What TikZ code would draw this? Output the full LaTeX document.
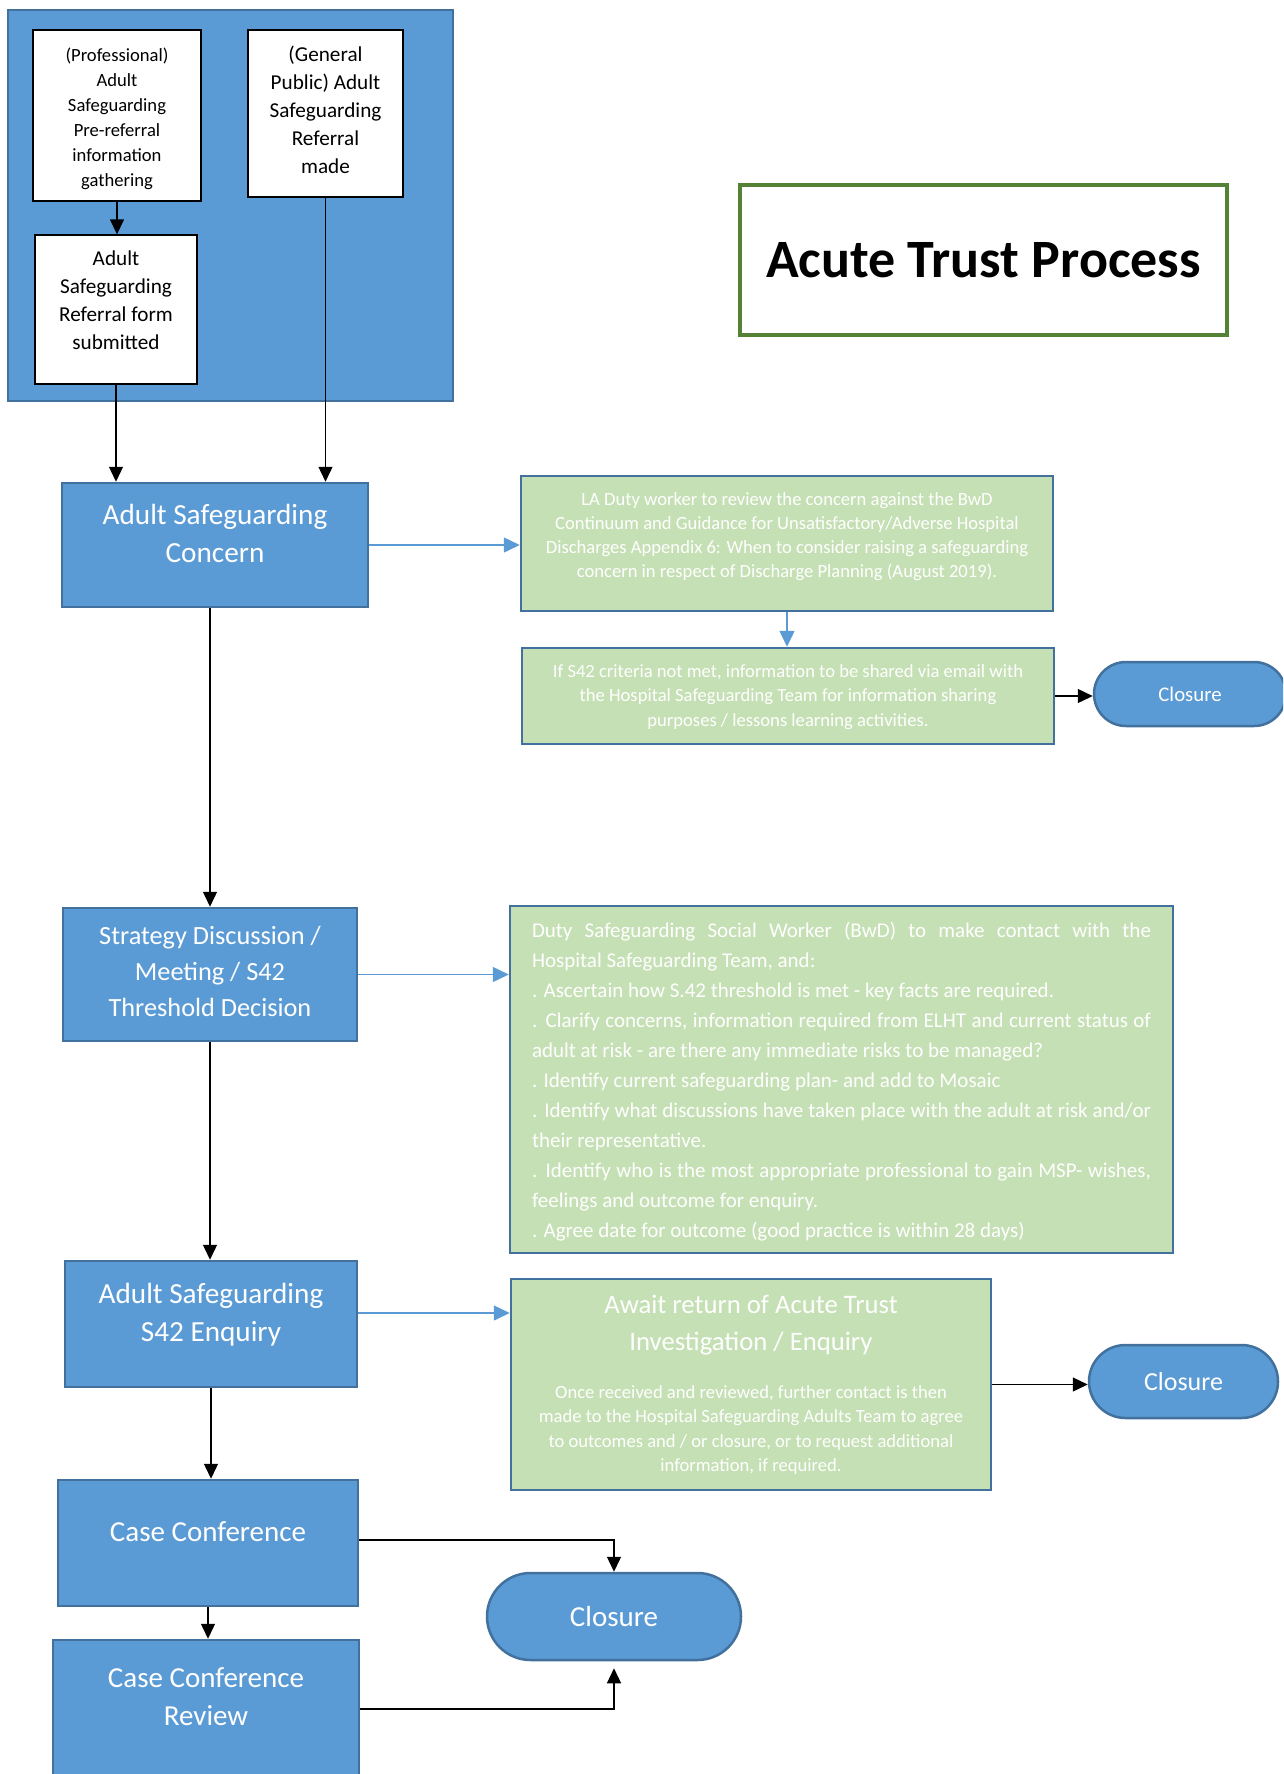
\documentclass[tikz,border=0pt]{standalone}
\usepackage{fontspec}
\setmainfont{Carlito}
\usetikzlibrary{arrows.meta,shapes.misc}
\definecolor{boxblue}{HTML}{5B9BD5}
\definecolor{boxedge}{HTML}{41719C}
\definecolor{boxgreen}{HTML}{C5E0B4}
\definecolor{titlegreen}{HTML}{548235}
% width, height, font size, baselineskip, top space, text
\newcommand{\tbox}[6]{\parbox[c][#2][t]{#1}{\fontsize{#3}{#4}\selectfont\centering\vspace*{#5}\strut #6\par}}
\tikzset{
 wbox/.style={draw=black, line width=1.3pt, fill=white, text=black, inner sep=0pt},
 bbox/.style={draw=boxedge, line width=2.5pt, fill=boxblue, text=white, inner sep=0pt},
 gbox/.style={draw=boxedge, line width=2.5pt, fill=boxgreen, text=white, inner sep=0pt},
 grpbox/.style={draw=boxedge, line width=2.5pt, fill=boxblue, inner sep=0pt},
 pill/.style={rounded rectangle, draw=boxedge, line width=2.5pt, fill=boxblue, text=white, inner sep=0pt},
 titlebox/.style={draw=titlegreen, line width=3.5pt, fill=white, inner sep=0pt},
 blk/.style={draw=black, line width=1.3pt, -{Triangle[length=15pt,width=14pt]}},
 barr/.style={draw=boxblue, line width=1.5pt, -{Triangle[length=16pt,width=15pt]}},
}
\begin{document}
\begin{tikzpicture}[x=1pt,y=-1pt]
\useasboundingbox (0,0) rectangle (1283,1774);
\fill[white] (0,0) rectangle (1283,1774);
\clip (0,0) rectangle (1283,1774);

\node[grpbox, minimum width=445pt, minimum height=391pt] (grp) at (230.5,205.5) {};

\node[wbox] (prof) at (117,115.5) {\tbox{168pt}{171pt}{18.6pt}{25pt}{14pt}{(Professional)\\Adult\\Safeguarding\\Pre-referral\\information\\gathering}};

\node[wbox] (gp) at (325.5,113.5) {\tbox{155pt}{167pt}{21.2pt}{28pt}{12.4pt}{(General\\Public) Adult\\Safeguarding\\Referral\\made}};

\node[wbox] (refform) at (116,309.5) {\tbox{162pt}{149pt}{21.2pt}{28pt}{10.4pt}{Adult\\Safeguarding\\Referral form\\submitted}};

\node[titlebox] (title) at (983.5,260) {\parbox[c][150pt][c]{487pt}{\centering\fontsize{54pt}{60pt}\selectfont\bfseries Acute Trust Process}};

\node[bbox] (concern) at (215,545) {\tbox{306pt}{124pt}{29.2pt}{38pt}{14.4pt}{Adult Safeguarding\\Concern}};

\node[gbox] (la) at (787,543.5) {\tbox{532pt}{135pt}{18.6pt}{24.3pt}{12pt}{LA Duty worker to review the concern against the BwD\\Continuum and Guidance for Unsatisfactory/Adverse Hospital\\Discharges Appendix 6: When to consider raising a safeguarding\\concern in respect of Discharge Planning (August 2019).}};

\node[gbox] (crit) at (788,696) {\tbox{532pt}{96pt}{18.6pt}{24.5pt}{11.85pt}{If S42 criteria not met, information to be shared via email with\\the Hospital Safeguarding Team for information sharing\\purposes / lessons learning activities.}};

\node[pill, minimum width=192pt, minimum height=64pt, font=\fontsize{20.8pt}{25pt}\selectfont] (close1) at (1190,694) {Closure};

\node[bbox] (strat) at (210,974.5) {\tbox{294pt}{133pt}{26.3pt}{36pt}{10.8pt}{Strategy Discussion /\\Meeting / S42\\Threshold Decision}};

\node[gbox, inner xsep=22pt] (duty) at (841.5,1079.5) {\parbox[c][347pt][t]{619pt}{\fontsize{21pt}{30pt}\selectfont\raggedright\vspace*{10pt}\strut\makebox[619pt][s]{Duty Safeguarding Social Worker (BwD) to make contact with the}\\
Hospital Safeguarding Team, and:\\
. Ascertain how S.42 threshold is met - key facts are required.\\
\makebox[619pt][s]{. Clarify concerns, information required from ELHT and current status of}\\
adult at risk - are there any immediate risks to be managed?\\
. Identify current safeguarding plan- and add to Mosaic\\
\makebox[619pt][s]{. Identify what discussions have taken place with the adult at risk and/or}\\
their representative.\\
\makebox[619pt][s]{. Identify who is the most appropriate professional to gain MSP- wishes,}\\
feelings and outcome for enquiry.\\
. Agree date for outcome (good practice is within 28 days)\par}};

\node[bbox] (s42) at (211,1324) {\tbox{292pt}{126pt}{29.2pt}{38pt}{15.4pt}{Adult Safeguarding\\S42 Enquiry}};

\node[gbox] (await) at (751,1384.5) {\parbox[c][211pt][t]{480pt}{\fontsize{26.7pt}{37pt}\selectfont\centering\vspace*{8.1pt}\strut Await return of Acute Trust\\Investigation / Enquiry\par\vspace{23.4pt}\fontsize{18.6pt}{24.6pt}\selectfont Once received and reviewed, further contact is then\\made to the Hospital Safeguarding Adults Team to agree\\to outcomes and / or closure, or to request additional\\information, if required.\par}};

\node[pill, minimum width=189pt, minimum height=73pt, font=\fontsize{26pt}{30pt}\selectfont] (close2) at (1183.5,1381.5) {Closure};

\node[bbox] (cc) at (208,1543) {\tbox{300pt}{126pt}{29pt}{38pt}{34.4pt}{Case Conference}};

\node[bbox] (ccr) at (206,1715) {\tbox{306pt}{150pt}{29pt}{38pt}{20.4pt}{Case Conference\\Review}};

\node[pill, minimum width=254pt, minimum height=87pt, font=\fontsize{29pt}{34pt}\selectfont] (close3) at (614,1616.5) {Closure};

% connectors
\draw[blk] (prof.south) -- (prof.south |- refform.north);
\draw[blk] (refform.south) -- (refform.south |- concern.north);
\draw[blk] (gp.south) -- (gp.south |- concern.north);
\draw[barr] (concern.east) -- (concern.east -| la.west);
\draw[barr] (la.south) -- (la.south |- crit.north);
\draw[blk] (crit.east) -- (crit.east -| close1.west);
\draw[blk] (strat.north |- concern.south) -- (strat.north);
\draw[barr] (strat.east) -- (strat.east -| duty.west);
\draw[blk] (strat.south) -- (strat.south |- s42.north);
\draw[barr] ([yshift=11pt]s42.east) -- ([yshift=11pt]s42.east -| await.west);
\draw[blk] (await.east) -- (await.east -| close2.west);
\draw[blk] (s42.south) -- (s42.south |- cc.north);
\draw[blk] ([yshift=3pt]cc.east) -| (close3.north);
\draw[blk] ([yshift=6pt]ccr.east) -| ([yshift=-7pt]close3.south);
\draw[blk] (cc.south) -- (cc.south |- ccr.north);
\end{tikzpicture}
\end{document}
